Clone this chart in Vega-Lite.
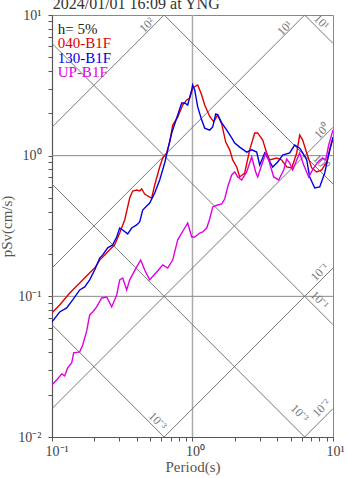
{
  "$schema": "https://vega.github.io/schema/vega-lite/v6.json",
  "width": 281,
  "height": 422,
  "autosize": "none",
  "padding": {"left": 52, "top": 15, "right": 14, "bottom": 41},
  "config": {
    "font": "Liberation Serif",
    "view": {"stroke": "#888", "strokeWidth": 1},
    "axis": {"labelFont": "Liberation Serif", "titleFont": "Liberation Serif"}
  },
  "datasets": {
    "diag": [
      {"id": "D10", "T": 6.283, "P": 10}, {"id": "D10", "T": 10, "P": 6.283},
      {"id": "D1", "T": 0.6283, "P": 10}, {"id": "D1", "T": 10, "P": 0.6283},
      {"id": "D0.1", "T": 0.1, "P": 6.283}, {"id": "D0.1", "T": 10, "P": 0.06283},
      {"id": "D0.01", "T": 0.1, "P": 0.6283}, {"id": "D0.01", "T": 6.283, "P": 0.01},
      {"id": "D0.001", "T": 0.1, "P": 0.06283}, {"id": "D0.001", "T": 0.6283, "P": 0.01},
      {"id": "A100", "T": 0.1, "P": 1.5915}, {"id": "A100", "T": 0.6283, "P": 10},
      {"id": "A10", "T": 0.1, "P": 0.15915}, {"id": "A10", "T": 6.283, "P": 10},
      {"id": "A1", "T": 0.1, "P": 0.015915}, {"id": "A1", "T": 10, "P": 1.5915},
      {"id": "A0.1", "T": 0.6283, "P": 0.01}, {"id": "A0.1", "T": 10, "P": 0.15915},
      {"id": "A0.01", "T": 6.283, "P": 0.01}, {"id": "A0.01", "T": 10, "P": 0.015915}
    ],
    "diaglabels": [
      {"kind": "A", "text": "10²", "T": 0.472, "P": 8.49},
      {"kind": "A", "text": "10¹", "T": 4.53, "P": 8.08},
      {"kind": "D", "text": "10¹", "T": 8.31, "P": 8.92},
      {"kind": "A", "text": "10⁰", "T": 8.31, "P": 1.5},
      {"kind": "D", "text": "10⁰", "T": 8.2, "P": 0.902},
      {"kind": "A", "text": "10⁻¹", "T": 8.04, "P": 0.149},
      {"kind": "D", "text": "10⁻¹", "T": 8.04, "P": 0.0943},
      {"kind": "A", "text": "10⁻²", "T": 8.27, "P": 0.0161},
      {"kind": "D", "text": "10⁻³", "T": 5.79, "P": 0.0148},
      {"kind": "D", "text": "10⁻³", "T": 0.565, "P": 0.013}
    ],
    "spectra": [
      {"s": "040-B1F", "T": 0.1, "P": 0.0765}, {"s": "040-B1F", "T": 0.1134, "P": 0.0869}, {"s": "040-B1F", "T": 0.1337, "P": 0.1057}, {"s": "040-B1F", "T": 0.1575, "P": 0.1245}, {"s": "040-B1F", "T": 0.1855, "P": 0.147}, {"s": "040-B1F", "T": 0.2013, "P": 0.159}, {"s": "040-B1F", "T": 0.2185, "P": 0.181}, {"s": "040-B1F", "T": 0.2372, "P": 0.197}, {"s": "040-B1F", "T": 0.2574, "P": 0.214}, {"s": "040-B1F", "T": 0.2794, "P": 0.232}, {"s": "040-B1F", "T": 0.3033, "P": 0.282}, {"s": "040-B1F", "T": 0.3292, "P": 0.349}, {"s": "040-B1F", "T": 0.3573, "P": 0.5}, {"s": "040-B1F", "T": 0.3753, "P": 0.561}, {"s": "040-B1F", "T": 0.4006, "P": 0.57}, {"s": "040-B1F", "T": 0.4209, "P": 0.561}, {"s": "040-B1F", "T": 0.4349, "P": 0.58}, {"s": "040-B1F", "T": 0.4568, "P": 0.534}, {"s": "040-B1F", "T": 0.4958, "P": 0.508}, {"s": "040-B1F", "T": 0.5123, "P": 0.5}, {"s": "040-B1F", "T": 0.5383, "P": 0.619}, {"s": "040-B1F", "T": 0.5841, "P": 0.831}, {"s": "040-B1F", "T": 0.6136, "P": 0.963}, {"s": "040-B1F", "T": 0.6553, "P": 1.045}, {"s": "040-B1F", "T": 0.6883, "P": 1.25}, {"s": "040-B1F", "T": 0.723, "P": 1.65}, {"s": "040-B1F", "T": 0.7847, "P": 1.88}, {"s": "040-B1F", "T": 0.8518, "P": 2.29}, {"s": "040-B1F", "T": 0.9094, "P": 2.49}, {"s": "040-B1F", "T": 0.9552, "P": 2.57}, {"s": "040-B1F", "T": 1.003, "P": 3.03}, {"s": "040-B1F", "T": 1.089, "P": 3.18}, {"s": "040-B1F", "T": 1.163, "P": 2.7}, {"s": "040-B1F", "T": 1.221, "P": 2.29}, {"s": "040-B1F", "T": 1.326, "P": 1.9}, {"s": "040-B1F", "T": 1.416, "P": 1.74}, {"s": "040-B1F", "T": 1.511, "P": 1.95}, {"s": "040-B1F", "T": 1.614, "P": 1.68}, {"s": "040-B1F", "T": 1.723, "P": 1.25}, {"s": "040-B1F", "T": 1.84, "P": 1.1}, {"s": "040-B1F", "T": 1.932, "P": 0.932}, {"s": "040-B1F", "T": 2.064, "P": 0.831}, {"s": "040-B1F", "T": 2.167, "P": 0.706}, {"s": "040-B1F", "T": 2.352, "P": 0.753}, {"s": "040-B1F", "T": 2.553, "P": 1.1}, {"s": "040-B1F", "T": 2.772, "P": 1.45}, {"s": "040-B1F", "T": 2.911, "P": 1.45}, {"s": "040-B1F", "T": 3.16, "P": 1.29}, {"s": "040-B1F", "T": 3.374, "P": 1.045}, {"s": "040-B1F", "T": 3.544, "P": 0.932}, {"s": "040-B1F", "T": 3.974, "P": 0.963}, {"s": "040-B1F", "T": 4.314, "P": 0.932}, {"s": "040-B1F", "T": 4.683, "P": 0.831}, {"s": "040-B1F", "T": 5.082, "P": 0.818}, {"s": "040-B1F", "T": 5.516, "P": 1.045}, {"s": "040-B1F", "T": 5.794, "P": 1.4}, {"s": "040-B1F", "T": 6.086, "P": 1.29}, {"s": "040-B1F", "T": 6.499, "P": 1.045}, {"s": "040-B1F", "T": 7.054, "P": 0.818}, {"s": "040-B1F", "T": 7.656, "P": 0.766}, {"s": "040-B1F", "T": 8.31, "P": 0.791}, {"s": "040-B1F", "T": 9.02, "P": 0.902}, {"s": "040-B1F", "T": 9.789, "P": 1.23}, {"s": "040-B1F", "T": 10, "P": 1.29},
      {"s": "130-B1F", "T": 0.1, "P": 0.0658}, {"s": "130-B1F", "T": 0.108, "P": 0.0726}, {"s": "130-B1F", "T": 0.1134, "P": 0.0774}, {"s": "130-B1F", "T": 0.1272, "P": 0.0827}, {"s": "130-B1F", "T": 0.1404, "P": 0.0943}, {"s": "130-B1F", "T": 0.1575, "P": 0.111}, {"s": "130-B1F", "T": 0.1709, "P": 0.1166}, {"s": "130-B1F", "T": 0.1855, "P": 0.131}, {"s": "130-B1F", "T": 0.2013, "P": 0.154}, {"s": "130-B1F", "T": 0.2185, "P": 0.187}, {"s": "130-B1F", "T": 0.2296, "P": 0.197}, {"s": "130-B1F", "T": 0.2491, "P": 0.221}, {"s": "130-B1F", "T": 0.2704, "P": 0.232}, {"s": "130-B1F", "T": 0.2887, "P": 0.264}, {"s": "130-B1F", "T": 0.3033, "P": 0.306}, {"s": "130-B1F", "T": 0.3187, "P": 0.296}, {"s": "130-B1F", "T": 0.3457, "P": 0.278}, {"s": "130-B1F", "T": 0.3692, "P": 0.306}, {"s": "130-B1F", "T": 0.4006, "P": 0.322}, {"s": "130-B1F", "T": 0.4209, "P": 0.338}, {"s": "130-B1F", "T": 0.4421, "P": 0.411}, {"s": "130-B1F", "T": 0.4798, "P": 0.446}, {"s": "130-B1F", "T": 0.4958, "P": 0.461}, {"s": "130-B1F", "T": 0.5383, "P": 0.543}, {"s": "130-B1F", "T": 0.5841, "P": 0.672}, {"s": "130-B1F", "T": 0.634, "P": 0.887}, {"s": "130-B1F", "T": 0.6661, "P": 1.1}, {"s": "130-B1F", "T": 0.7113, "P": 1.45}, {"s": "130-B1F", "T": 0.7718, "P": 1.85}, {"s": "130-B1F", "T": 0.8378, "P": 2.37}, {"s": "130-B1F", "T": 0.8801, "P": 2.37}, {"s": "130-B1F", "T": 0.9243, "P": 2.29}, {"s": "130-B1F", "T": 0.987, "P": 2.93}, {"s": "130-B1F", "T": 1.003, "P": 3.18}, {"s": "130-B1F", "T": 1.037, "P": 2.93}, {"s": "130-B1F", "T": 1.089, "P": 2.22}, {"s": "130-B1F", "T": 1.163, "P": 1.79}, {"s": "130-B1F", "T": 1.221, "P": 1.57}, {"s": "130-B1F", "T": 1.326, "P": 1.52}, {"s": "130-B1F", "T": 1.393, "P": 1.6}, {"s": "130-B1F", "T": 1.463, "P": 1.98}, {"s": "130-B1F", "T": 1.511, "P": 1.95}, {"s": "130-B1F", "T": 1.614, "P": 1.71}, {"s": "130-B1F", "T": 1.752, "P": 1.52}, {"s": "130-B1F", "T": 1.901, "P": 1.34}, {"s": "130-B1F", "T": 1.997, "P": 1.23}, {"s": "130-B1F", "T": 2.167, "P": 1.15}, {"s": "130-B1F", "T": 2.431, "P": 1.06}, {"s": "130-B1F", "T": 2.638, "P": 1.1}, {"s": "130-B1F", "T": 2.864, "P": 1.06}, {"s": "130-B1F", "T": 3.008, "P": 0.859}, {"s": "130-B1F", "T": 3.265, "P": 1.045}, {"s": "130-B1F", "T": 3.429, "P": 0.963}, {"s": "130-B1F", "T": 3.722, "P": 0.831}, {"s": "130-B1F", "T": 4.04, "P": 0.902}, {"s": "130-B1F", "T": 4.385, "P": 1.01}, {"s": "130-B1F", "T": 4.918, "P": 1.045}, {"s": "130-B1F", "T": 5.339, "P": 1.19}, {"s": "130-B1F", "T": 5.794, "P": 1.13}, {"s": "130-B1F", "T": 6.086, "P": 1.045}, {"s": "130-B1F", "T": 6.499, "P": 0.932}, {"s": "130-B1F", "T": 6.827, "P": 0.706}, {"s": "130-B1F", "T": 7.41, "P": 0.589}, {"s": "130-B1F", "T": 8.042, "P": 0.599}, {"s": "130-B1F", "T": 8.729, "P": 0.753}, {"s": "130-B1F", "T": 9.474, "P": 1.1}, {"s": "130-B1F", "T": 10, "P": 1.36},
      {"s": "UP-B1F", "T": 0.1, "P": 0.0235}, {"s": "UP-B1F", "T": 0.108, "P": 0.0254}, {"s": "UP-B1F", "T": 0.1172, "P": 0.0281}, {"s": "UP-B1F", "T": 0.1231, "P": 0.0272}, {"s": "UP-B1F", "T": 0.1293, "P": 0.031}, {"s": "UP-B1F", "T": 0.1381, "P": 0.0336}, {"s": "UP-B1F", "T": 0.1427, "P": 0.0396}, {"s": "UP-B1F", "T": 0.1575, "P": 0.0403}, {"s": "UP-B1F", "T": 0.1654, "P": 0.0451}, {"s": "UP-B1F", "T": 0.1766, "P": 0.0568}, {"s": "UP-B1F", "T": 0.1855, "P": 0.0738}, {"s": "UP-B1F", "T": 0.1949, "P": 0.0774}, {"s": "UP-B1F", "T": 0.2079, "P": 0.0841}, {"s": "UP-B1F", "T": 0.2258, "P": 0.0974}, {"s": "UP-B1F", "T": 0.2451, "P": 0.099}, {"s": "UP-B1F", "T": 0.266, "P": 0.0841}, {"s": "UP-B1F", "T": 0.2887, "P": 0.1023}, {"s": "UP-B1F", "T": 0.3033, "P": 0.131}, {"s": "UP-B1F", "T": 0.3187, "P": 0.135}, {"s": "UP-B1F", "T": 0.3401, "P": 0.111}, {"s": "UP-B1F", "T": 0.3573, "P": 0.131}, {"s": "UP-B1F", "T": 0.4006, "P": 0.162}, {"s": "UP-B1F", "T": 0.4278, "P": 0.181}, {"s": "UP-B1F", "T": 0.4568, "P": 0.154}, {"s": "UP-B1F", "T": 0.4958, "P": 0.131}, {"s": "UP-B1F", "T": 0.556, "P": 0.149}, {"s": "UP-B1F", "T": 0.6136, "P": 0.167}, {"s": "UP-B1F", "T": 0.6661, "P": 0.159}, {"s": "UP-B1F", "T": 0.723, "P": 0.181}, {"s": "UP-B1F", "T": 0.7847, "P": 0.252}, {"s": "UP-B1F", "T": 0.8801, "P": 0.306}, {"s": "UP-B1F", "T": 0.9243, "P": 0.332}, {"s": "UP-B1F", "T": 0.987, "P": 0.264}, {"s": "UP-B1F", "T": 1.037, "P": 0.264}, {"s": "UP-B1F", "T": 1.125, "P": 0.282}, {"s": "UP-B1F", "T": 1.182, "P": 0.287}, {"s": "UP-B1F", "T": 1.262, "P": 0.306}, {"s": "UP-B1F", "T": 1.326, "P": 0.355}, {"s": "UP-B1F", "T": 1.393, "P": 0.432}, {"s": "UP-B1F", "T": 1.511, "P": 0.446}, {"s": "UP-B1F", "T": 1.614, "P": 0.4535}, {"s": "UP-B1F", "T": 1.695, "P": 0.492}, {"s": "UP-B1F", "T": 1.78, "P": 0.599}, {"s": "UP-B1F", "T": 1.901, "P": 0.729}, {"s": "UP-B1F", "T": 1.997, "P": 0.766}, {"s": "UP-B1F", "T": 2.097, "P": 0.706}, {"s": "UP-B1F", "T": 2.24, "P": 0.672}, {"s": "UP-B1F", "T": 2.431, "P": 0.766}, {"s": "UP-B1F", "T": 2.638, "P": 0.979}, {"s": "UP-B1F", "T": 2.818, "P": 0.766}, {"s": "UP-B1F", "T": 2.911, "P": 0.706}, {"s": "UP-B1F", "T": 3.108, "P": 0.859}, {"s": "UP-B1F", "T": 3.319, "P": 1.045}, {"s": "UP-B1F", "T": 3.486, "P": 0.932}, {"s": "UP-B1F", "T": 3.784, "P": 0.706}, {"s": "UP-B1F", "T": 4.106, "P": 0.672}, {"s": "UP-B1F", "T": 4.458, "P": 0.791}, {"s": "UP-B1F", "T": 4.683, "P": 0.947}, {"s": "UP-B1F", "T": 4.918, "P": 0.887}, {"s": "UP-B1F", "T": 5.166, "P": 0.791}, {"s": "UP-B1F", "T": 5.516, "P": 0.932}, {"s": "UP-B1F", "T": 5.794, "P": 1.045}, {"s": "UP-B1F", "T": 6.187, "P": 0.859}, {"s": "UP-B1F", "T": 6.714, "P": 0.706}, {"s": "UP-B1F", "T": 7.29, "P": 0.818}, {"s": "UP-B1F", "T": 7.912, "P": 0.917}, {"s": "UP-B1F", "T": 8.448, "P": 0.963}, {"s": "UP-B1F", "T": 8.872, "P": 0.932}, {"s": "UP-B1F", "T": 9.319, "P": 1.19}, {"s": "UP-B1F", "T": 10, "P": 1.52}
    ],
    "legendtext": [
      {"s": "040-B1F", "T": 0.1098, "P": 5.78},
      {"s": "130-B1F", "T": 0.1098, "P": 4.56},
      {"s": "UP-B1F", "T": 0.1098, "P": 3.6}
    ],
    "note": [{"text": "h= 5%", "T": 0.1098, "P": 7.33}],
    "heading": [{"text": "2024/01/01 16:09 at YNG", "T": 0.1012, "P": 10.95}],
    "vgrid": [{"T": 1}],
    "hgrid": [{"P": 1}, {"P": 0.1}]
  },
  "layer": [
    {
      "data": {"name": "vgrid"},
      "mark": {"type": "rule", "color": "#aaa", "strokeWidth": 1.5},
      "encoding": {
        "x": {
          "field": "T", "type": "quantitative",
          "scale": {"type": "log", "domain": [0.1, 10], "nice": false},
          "axis": {
            "title": "Period(s)", "titleFontSize": 15, "titleFontWeight": "normal", "titleColor": "#555", "titlePadding": 1,
            "values": [0.1, 0.2, 0.3, 0.4, 0.5, 0.6, 0.7, 0.8, 0.9, 1, 2, 3, 4, 5, 6, 7, 8, 9, 10],
            "labelExpr": "datum.value == 0.1 ? '10⁻¹' : datum.value == 1 ? '10⁰' : datum.value == 10 ? '10¹' : ''",
            "labelFontSize": 14, "labelColor": "#444", "labelAlign": "left", "labelOffset": -7, "labelPadding": 3,
            "labelOverlap": false, "labelFlush": false,
            "grid": false, "domainColor": "#555", "domainWidth": 1.2, "tickColor": "#555", "tickSize": 4
          }
        }
      }
    },
    {
      "data": {"name": "hgrid"},
      "mark": {"type": "rule", "color": "#888", "strokeWidth": 1},
      "encoding": {
        "y": {
          "field": "P", "type": "quantitative",
          "scale": {"type": "log", "domain": [0.01, 10], "nice": false},
          "axis": {
            "title": "pSv(cm/s)", "titleFontSize": 15, "titleFontWeight": "normal", "titleColor": "#555", "titlePadding": 3,
            "values": [0.01, 0.02, 0.03, 0.04, 0.05, 0.06, 0.07, 0.08, 0.09, 0.1, 0.2, 0.3, 0.4, 0.5, 0.6, 0.7, 0.8, 0.9, 1, 2, 3, 4, 5, 6, 7, 8, 9, 10],
            "labelExpr": "datum.value == 0.01 ? '10⁻²' : datum.value == 0.1 ? '10⁻¹' : datum.value == 1 ? '10⁰' : datum.value == 10 ? '10¹' : ''",
            "labelFontSize": 14, "labelColor": "#444", "labelPadding": 7,
            "labelOverlap": false, "labelFlush": false,
            "grid": false, "domainColor": "#555", "domainWidth": 1.2, "tickColor": "#555", "tickSize": 4
          }
        }
      }
    },
    {
      "data": {"name": "diag"},
      "mark": {"type": "line", "color": "#777", "strokeWidth": 1, "clip": true},
      "encoding": {
        "x": {"field": "T", "type": "quantitative"},
        "y": {"field": "P", "type": "quantitative"},
        "detail": {"field": "id"}
      }
    },
    {
      "data": {"name": "diaglabels"},
      "transform": [{"filter": "datum.kind == 'A'"}],
      "mark": {"type": "text", "angle": -45, "fontSize": 12, "color": "#777", "align": "center", "baseline": "middle"},
      "encoding": {
        "x": {"field": "T", "type": "quantitative"},
        "y": {"field": "P", "type": "quantitative"},
        "text": {"field": "text"}
      }
    },
    {
      "data": {"name": "diaglabels"},
      "transform": [{"filter": "datum.kind == 'D'"}],
      "mark": {"type": "text", "angle": 45, "fontSize": 12, "color": "#777", "align": "center", "baseline": "middle"},
      "encoding": {
        "x": {"field": "T", "type": "quantitative"},
        "y": {"field": "P", "type": "quantitative"},
        "text": {"field": "text"}
      }
    },
    {
      "data": {"name": "spectra"},
      "mark": {"type": "line", "strokeWidth": 1.4, "clip": true},
      "encoding": {
        "x": {"field": "T", "type": "quantitative"},
        "y": {"field": "P", "type": "quantitative"},
        "color": {"field": "s", "type": "nominal", "scale": {"domain": ["040-B1F", "130-B1F", "UP-B1F"], "range": ["#e00000", "#0000e0", "#e000e0"]}, "legend": null}
      }
    },
    {
      "data": {"name": "note"},
      "mark": {"type": "text", "fontSize": 15, "color": "#222", "align": "left", "baseline": "alphabetic"},
      "encoding": {
        "x": {"field": "T", "type": "quantitative"},
        "y": {"field": "P", "type": "quantitative"},
        "text": {"field": "text"}
      }
    },
    {
      "data": {"name": "heading"},
      "mark": {"type": "text", "fontSize": 16, "color": "#333", "align": "left", "baseline": "alphabetic"},
      "encoding": {
        "x": {"field": "T", "type": "quantitative"},
        "y": {"field": "P", "type": "quantitative"},
        "text": {"field": "text"}
      }
    },
    {
      "data": {"name": "legendtext"},
      "mark": {"type": "text", "fontSize": 15, "align": "left", "baseline": "alphabetic"},
      "encoding": {
        "x": {"field": "T", "type": "quantitative"},
        "y": {"field": "P", "type": "quantitative"},
        "text": {"field": "s"},
        "color": {"field": "s", "type": "nominal", "legend": null}
      }
    }
  ]
}
